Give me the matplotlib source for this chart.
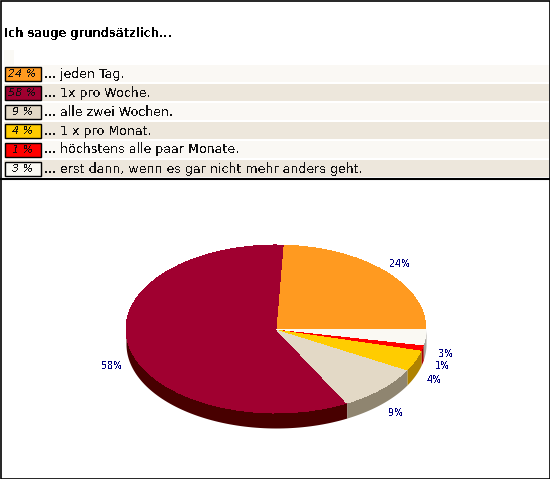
import numpy as np
import matplotlib
matplotlib.use('Agg')
import matplotlib.pyplot as plt
from matplotlib.patches import Rectangle

title = 'Ich sauge grundsätzlich...'
answers = ['... jeden Tag.', '... 1x pro Woche.', '... alle zwei Wochen.',
           '... 1 x pro Monat.', '... höchstens alle paar Monate.',
           '... erst dann, wenn es gar nicht mehr anders geht.']
percent = [24, 58, 9, 4, 1, 3]
colors = ['#FF9A20', '#A00030', '#E3D9C6', '#FFCC00', '#FF0000', '#FAF9F3']
side_colors = ['#AF6A16', '#480000', '#8F8570', '#AF8200', '#AA0000', '#A8A79F']

plt.rcParams['font.family'] = 'DejaVu Sans'
plt.rcParams['text.antialiased'] = False
plt.rcParams['text.hinting'] = 'native'

W, H = 550, 479
fig = plt.figure(figsize=(W / 100, H / 100), dpi=100)

# ganze Flaeche in Pixeln
bg = fig.add_axes([0, 0, 1, 1])
bg.set_xlim(0, W)
bg.set_ylim(H, 0)
bg.axis('off')

# Rahmen
bg.add_patch(Rectangle((0.5, 0.5), W - 1, H - 1, fill=False, ec='black', lw=1.2))
bg.plot([0, W], [179, 179], color='black', lw=1.5)
bg.add_patch(Rectangle((4, 50), 10, 15, fc='#FAF9F5', ec='none'))

bg.text(4, 33, title, fontsize=8.3, fontweight='bold', va='center', ha='left', color='black')

# Legende
for i, (ans, p, c) in enumerate(zip(answers, percent, colors)):
    top = 65 + i * 19
    bg.add_patch(Rectangle((4, top), W - 5, 17, fc='#FAF8F4' if i % 2 == 0 else '#EDE7DC', ec='none'))
    bg.add_patch(Rectangle((4.5, top + 1.5), 36, 14, fc=c, ec='black', lw=1))
    bg.text(22.5, top + 8.5, f'{p} %', fontsize=8, style='italic', ha='center', va='center', color='#111111')
    bg.text(44, top + 8.5, ans, fontsize=9.1, ha='left', va='center', color='#111111')

# Torte: eigene Achse, gestaucht auf 150 x 84 Pixel
cx, cy, rx, ry, depth = 276, 329, 150, 84, 15
ax = fig.add_axes([(cx - rx) / W, 1 - (cy + ry + depth) / H, 2 * rx / W, 2 * (ry + depth) / H])
ax.patch.set_alpha(0)
d = depth / ry

edges = np.cumsum([0] + percent) / sum(percent) * 360

# Seitenwand, nur vordere Haelfte
for a0, a1, sc in zip(edges[:-1], edges[1:], side_colors):
    a0, a1 = max(a0, 180), max(a1, 180)
    if a1 <= a0:
        continue
    t = np.radians(np.linspace(a0, a1, 80))
    ax.fill_between(np.cos(t), np.sin(t) - d, np.sin(t) + 0.01, color=sc, lw=0, antialiased=False)

wedges, _ = ax.pie(percent, colors=colors, startangle=0, counterclock=True, radius=1)
for w in wedges:
    w.set_antialiased(False)
    w.set_linewidth(0)
ax.set_aspect('auto')
ax.set_xlim(-1, 1)
ax.set_ylim(-1 - d, 1 + d)
ax.axis('off')

# Beschriftung aussen
for a0, a1, p in zip(edges[:-1], edges[1:], percent):
    m = np.radians((a0 + a1) / 2)
    x = cx + rx * 1.13 * np.cos(m) + 1
    y = cy - ry * 1.13 * np.sin(m)
    if np.sin(m) < 0:
        y += 16
    bg.text(x, y, f'{p}%', fontsize=7.6, stretch='condensed', color='#000080', ha='center', va='center')

fig.savefig('out.png', dpi=100)
